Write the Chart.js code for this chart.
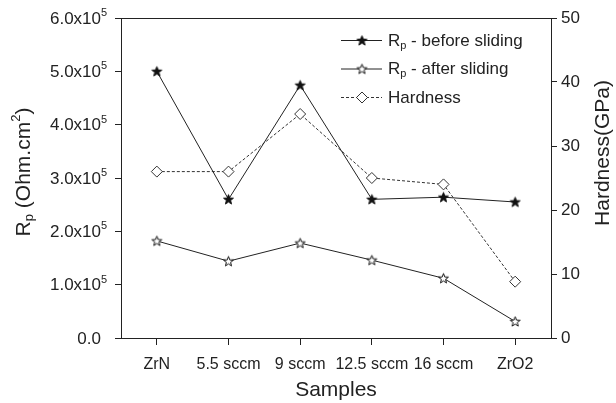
<!DOCTYPE html>
<html>
<head>
<meta charset="utf-8">
<script src="https://cdn.jsdelivr.net/npm/chart.js@4.4.1/dist/chart.umd.min.js"></script>
<style>
html, body { margin: 0; padding: 0; background: #fff; }
</style>
</head>
<body>
<canvas id="myChart" width="616" height="403"></canvas>
<script>
// data
var samples = ['ZrN', '5.5 sccm', '9 sccm', '12.5 sccm', '16 sccm', 'ZrO2'];
var rpBefore = [5.0e5, 2.6e5, 4.74e5, 2.6e5, 2.64e5, 2.55e5];
var rpAfter = [1.82e5, 1.44e5, 1.78e5, 1.46e5, 1.12e5, 0.31e5];
var hardness = [26, 26, 35, 25, 24, 8.8];
var rpTickStep = 1e5;
var hardTickStep = 10;

var FONT = "'Liberation Sans', Arial, sans-serif";
var INK = '#222';

// five point star marker, filled or hollow
function makeStar(filled) {
    var c = document.createElement('canvas');
    c.width = 13;
    c.height = 13;
    var g = c.getContext('2d');
    g.beginPath();
    for (var i = 0; i < 10; i++) {
        var r = i % 2 ? 2.2 : 5.2;
        var a = -Math.PI / 2 + i * Math.PI / 5;
        var px = 6.5 + r * Math.cos(a), py = 6.9 + r * Math.sin(a);
        if (i) g.lineTo(px, py); else g.moveTo(px, py);
    }
    g.closePath();
    g.fillStyle = filled ? '#111' : '#fff';
    g.fill();
    g.strokeStyle = '#111';
    g.lineWidth = 1;
    g.stroke();
    return c;
}
var starFilled = makeStar(true);
var starOpen = makeStar(false);

// text with sub/superscripts: parts = [[text, mode]], mode 0 normal, 1 sup, -1 sub
function richWidth(ctx, parts, size) {
    var w = 0;
    parts.forEach(function (p) {
        ctx.font = (p[1] ? Math.round(size * 0.62) : size) + 'px ' + FONT;
        w += ctx.measureText(p[0]).width;
    });
    return w;
}
function drawRich(ctx, parts, x, y, size) {
    ctx.save();
    ctx.fillStyle = INK;
    ctx.textAlign = 'left';
    ctx.textBaseline = 'middle';
    parts.forEach(function (p) {
        var s = p[1] ? Math.round(size * 0.62) : size;
        ctx.font = s + 'px ' + FONT;
        var dy = p[1] === 1 ? -size * 0.36 : (p[1] === -1 ? size * 0.28 : 0);
        ctx.fillText(p[0], x, y + dy);
        x += ctx.measureText(p[0]).width;
    });
    ctx.restore();
}
function drawVertical(ctx, parts, cx, cy, size) {
    var tw = richWidth(ctx, parts, size);
    ctx.save();
    ctx.translate(cx, cy);
    ctx.rotate(-Math.PI / 2);
    drawRich(ctx, parts, -tw / 2, 0, size);
    ctx.restore();
}

var extras = {
    id: 'extras',
    afterDraw: function (chart) {
        var ctx = chart.ctx, area = chart.chartArea;
        // top frame line
        ctx.save();
        ctx.strokeStyle = INK;
        ctx.lineWidth = 1;
        ctx.beginPath();
        ctx.moveTo(area.left, area.top + 0.5);
        ctx.lineTo(area.right, area.top + 0.5);
        ctx.stroke();
        ctx.restore();

        // left tick labels  (n.nx10^5)
        var ys = chart.scales.y;
        ys.ticks.forEach(function (t) {
            var py = ys.getPixelForValue(t.value);
            var main = t.value === 0 ? '0.0' : (t.value / 1e5).toFixed(1) + 'x10';
            ctx.font = '17px ' + FONT;
            var w = ctx.measureText(main).width;
            var parts = t.value === 0 ? [[main, 0]] : [[main, 0], ['5', 1]];
            drawRich(ctx, parts, area.left - 20 - w, py + 1, 17);
        });

        // axis titles, both read bottom to top
        drawVertical(ctx, [['R', 0], ['p', -1], [' (Ohm.cm', 0], ['2', 1], [')', 0]],
            24, (area.top + area.bottom) / 2 - 6, 21);
        drawVertical(ctx, [['Hardness(GPa)', 0]], area.right + 52, (area.top + area.bottom) / 2 - 25, 21);

        // legend inside the plot, top right
        var names = [
            [['R', 0], ['p', -1], [' - before sliding', 0]],
            [['R', 0], ['p', -1], [' - after sliding', 0]],
            [['Hardness', 0]]
        ];
        var x0 = area.right - 210;
        chart.data.datasets.forEach(function (ds, i) {
            var ly = area.top + 22 + i * 28.5;
            ctx.save();
            ctx.strokeStyle = ds.borderColor;
            ctx.lineWidth = 1;
            ctx.setLineDash(ds.borderDash || []);
            ctx.beginPath();
            ctx.moveTo(x0, ly + 0.5);
            ctx.lineTo(x0 + 41, ly + 0.5);
            ctx.stroke();
            ctx.setLineDash([]);
            ctx.fillStyle = ds.pointBackgroundColor || '#fff';
            ctx.strokeStyle = ds.pointBorderColor || INK;
            Chart.helpers.drawPoint(ctx, {
                pointStyle: ds.pointStyle,
                radius: ds.pointRadius,
                borderWidth: 1
            }, x0 + 21, ly + 0.5);
            ctx.restore();
            drawRich(ctx, names[i], x0 + 47, ly + 1, 17);
        });
    }
};

Chart.defaults.font.family = FONT;
Chart.defaults.font.size = 17;
Chart.defaults.color = INK;

var ctx = document.getElementById('myChart').getContext('2d');
var myChart = new Chart(ctx, {
    type: 'line',
    data: {
        labels: samples,
        datasets: [
            {
                label: 'Rp - before sliding',
                data: rpBefore,
                yAxisID: 'y',
                borderColor: INK,
                borderWidth: 1,
                pointStyle: starFilled,
                pointRadius: 6,
                tension: 0
            },
            {
                label: 'Rp - after sliding',
                data: rpAfter,
                yAxisID: 'y',
                borderColor: INK,
                borderWidth: 1,
                pointStyle: starOpen,
                pointRadius: 6,
                tension: 0
            },
            {
                label: 'Hardness',
                data: hardness,
                yAxisID: 'y1',
                borderColor: '#333',
                borderWidth: 1,
                borderDash: [3, 2],
                pointStyle: 'rectRot',
                pointRadius: 5.5,
                pointBorderWidth: 1,
                pointBackgroundColor: '#fff',
                pointBorderColor: '#333',
                backgroundColor: '#fff',
                tension: 0
            }
        ]
    },
    options: {
        responsive: false,
        animation: false,
        events: [],
        layout: { padding: { top: 18, left: 0, right: 0, bottom: 0 } },
        plugins: {
            legend: { display: false },
            tooltip: { enabled: false }
        },
        scales: {
            x: {
                type: 'category',
                offset: true,
                grid: { drawOnChartArea: false, offset: false, tickLength: 7, color: INK },
                border: { display: true, color: INK, width: 1 },
                ticks: { padding: 10, maxRotation: 0, autoSkip: false, font: { size: 16 } },
                title: { display: true, text: 'Samples', font: { size: 21 }, padding: { top: 0, bottom: 0 } },
                afterFit: function (s) { s.height = 65; }
            },
            y: {
                position: 'left',
                min: 0,
                max: 6e5,
                grid: { drawOnChartArea: false, tickLength: 6, color: INK },
                border: { display: true, color: INK, width: 1 },
                ticks: { stepSize: rpTickStep, display: false },
                afterFit: function (s) { s.width = 121; }
            },
            y1: {
                position: 'right',
                min: 0,
                max: 50,
                grid: { drawOnChartArea: false, tickLength: 6, color: INK },
                border: { display: true, color: INK, width: 1 },
                ticks: { stepSize: hardTickStep, padding: 4, font: { size: 17 } },
                afterFit: function (s) { s.width = 65; }
            }
        }
    },
    plugins: [extras]
});
</script>
</body>
</html>
